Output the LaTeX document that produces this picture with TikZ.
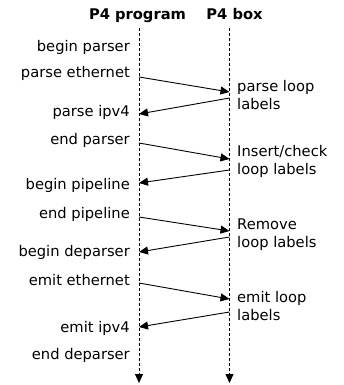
\documentclass[tikz,border=0pt]{standalone}
\usepackage{fontspec}
\setmainfont{DejaVu Sans}
\usetikzlibrary{arrows.meta}

\begin{document}
\begin{tikzpicture}
	[
	 x = 1pt,
	 y = -1pt,
	 every node/.style = {font=\fontsize{14.7}{18}\selectfont,
	                      inner sep = 0pt
	                     },
	 head/.style  = {font=\fontsize{14.7}{18}\selectfont\bfseries,
	                 anchor=base},
	 prog/.style  = {anchor=base east},
	 box/.style   = {anchor=base west, align=left},
	 life/.style  = {line width=0.8pt, dash pattern=on 3pt off 2pt,
	                 -{Triangle[length=9pt,width=8pt]}},
	 msg/.style   = {line width=0.9pt,
	                 -{Triangle[length=9pt,width=8pt]}}
	]

	\newcommand{\PLL}{parse loop\\labels}
	\newcommand{\ICL}{Insert/check\\loop labels}
	\newcommand{\RLL}{Remove\\loop labels}
	\newcommand{\ELL}{emit loop\\labels}

	\useasboundingbox (0,0) rectangle (344,385);

	% lifelines
	\node [head] (hprog) at (137.5,20) {P4 program};
	\node [head] (hbox)  at (234.5,20) {P4 box};
	\coordinate (progtop) at (139,28);
	\coordinate (progend) at (139,383);
	\coordinate (boxtop)  at (229.5,28);
	\coordinate (boxend)  at (229.5,383);
	\draw [life] (progtop) -- (progend);
	\draw [life] (boxtop)  -- (boxend);

	% program steps
	\node [prog] (bparser)  at (130,52)  {begin parser};
	\node [prog] (peth)     at (130,78)  {parse ethernet};
	\node [prog] (pipv)     at (130,117) {parse ipv4};
	\node [prog] (eparser)  at (130,144) {end parser};
	\node [prog] (bpipe)    at (130,189) {begin pipeline};
	\node [prog] (epipe)    at (130,218) {end pipeline};
	\node [prog] (bdeparse) at (130,256) {begin deparser};
	\node [prog] (eeth)     at (130,285) {emit ethernet};
	\node [prog] (eipv)     at (130,332) {emit ipv4};
	\node [prog] (edeparse) at (130,359) {end deparser};

	% box steps (base = last line)
	\node [box] (bparse)  at (237,110) {\PLL};
	\node [box] (binsert) at (237,174) {\ICL};
	\node [box] (bremove) at (237,247) {\RLL};
	\node [box] (bemit)   at (237,320) {\ELL};

	% message ends
	\coordinate (p1) at (139,77);    \coordinate (b1) at (229.5,92);
	\coordinate (b2) at (229.5,98);  \coordinate (p2) at (139,114);
	\coordinate (p3) at (139,143);   \coordinate (b3) at (229.5,159);
	\coordinate (b4) at (229.5,170); \coordinate (p4) at (139,183);
	\coordinate (p5) at (139,217);   \coordinate (b5) at (229.5,231);
	\coordinate (b6) at (229.5,237); \coordinate (p6) at (139,252);
	\coordinate (p7) at (139,283);   \coordinate (b7) at (229.5,299);
	\coordinate (b8) at (229.5,312); \coordinate (p8) at (139,327);

	\draw [msg] (p1) -- (b1);
	\draw [msg] (b2) -- (p2);
	\draw [msg] (p3) -- (b3);
	\draw [msg] (b4) -- (p4);
	\draw [msg] (p5) -- (b5);
	\draw [msg] (b6) -- (p6);
	\draw [msg] (p7) -- (b7);
	\draw [msg] (b8) -- (p8);
\end{tikzpicture}
\end{document}
